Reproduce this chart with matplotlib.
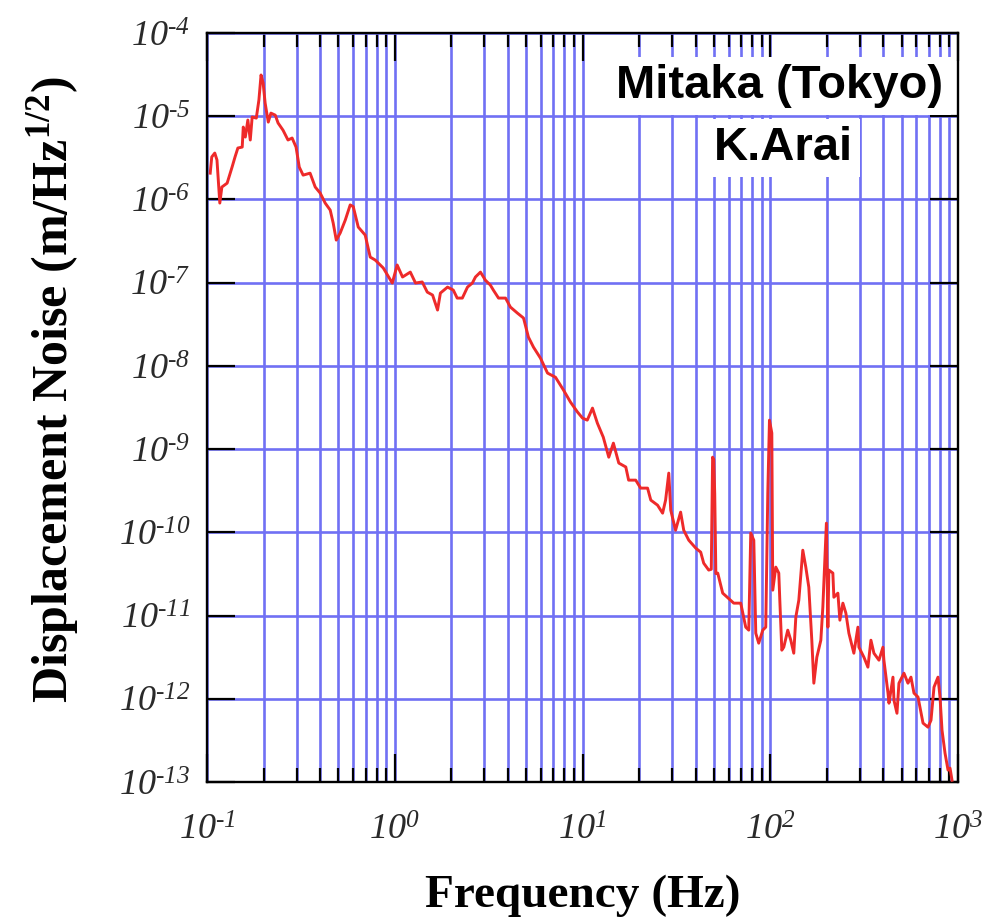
import math
import matplotlib
matplotlib.use("Agg")
import matplotlib.pyplot as plt
from matplotlib.ticker import LogLocator, FuncFormatter, NullFormatter, NullLocator

# Displacement noise spectrum, Mitaka (Tokyo)
freq_hz = [
    0.104, 0.106, 0.110, 0.113, 0.117, 0.120, 0.128, 0.136, 0.141, 0.146,
    0.154, 0.156, 0.160, 0.165, 0.170, 0.174, 0.183, 0.189, 0.194, 0.199,
    0.204, 0.212, 0.219, 0.231, 0.239, 0.254, 0.270, 0.284, 0.298, 0.310,
    0.325, 0.354, 0.377, 0.401, 0.426, 0.453, 0.470, 0.488, 0.512, 0.545,
    0.579, 0.601, 0.639, 0.696, 0.740, 0.787, 0.869, 0.970, 1.03, 1.10,
    1.21, 1.29, 1.40, 1.49, 1.59, 1.69, 1.75, 1.91, 2.05, 2.15,
    2.29, 2.44, 2.59, 2.69, 2.86, 3.04, 3.23, 3.35, 3.57, 3.89,
    4.13, 4.50, 4.85, 5.15, 5.48, 5.97, 6.51, 7.18, 7.92, 8.63,
    9.40, 10.0, 10.6, 11.3, 12.0, 12.9, 13.8, 14.6, 15.6, 17.0,
    17.6, 19.2, 20.4, 22.2, 23.1, 25.1, 26.7, 27.7, 28.8, 29.5,
    31.3, 33.3, 34.6, 36.8, 40.1, 42.6, 44.2, 47.0, 48.5, 49.3,
    50.0, 50.6, 51.3, 52.5, 55.8, 63.9, 69.6, 74.0, 76.8, 78.7,
    81.7, 83.7, 86.8, 91.2, 94.6, 97.0, 99.0, 101.9, 103.1, 107.0,
    111.0, 112.4, 115.2, 118.0, 123.9, 128.6, 133.4, 136.8, 141.9, 149.0,
    154.6, 160.4, 166.4, 170.6, 177.0, 185.9, 190.5, 199.0, 202.7, 205.1,
    215.4, 218.1, 229.1, 234.8, 243.6, 252.7, 262.2, 278.7, 292.9, 296.5,
    315.3, 331.1, 343.6, 356.5, 379.2, 398.1, 402.9, 423.6, 428.8, 450.2,
    455.8, 472.9, 484.5, 515.2, 541.0, 561.4, 582.5, 612.0, 650.9, 691.8,
    717.8, 744.7, 782.0, 801.7, 821.6, 852.5, 884.5, 906.5, 928.9,
]
noise_amp = [
    2.07e-6, 3.24e-6, 3.61e-6, 2.98e-6, 9.05e-7, 1.41e-6, 1.57e-6, 2.45e-6, 3.24e-6, 4.15e-6,
    4.26e-6, 7.41e-6, 5.62e-6, 9.0e-6, 5.18e-6, 9.8e-6, 9.5e-6, 1.57e-5, 3.13e-5, 2.51e-5,
    1.44e-5, 8.5e-6, 1.09e-5, 1.03e-5, 8.3e-6, 6.8e-6, 5.18e-6, 5.47e-6, 4.26e-6, 2.45e-6,
    1.96e-6, 2.07e-6, 1.41e-6, 1.19e-6, 9.05e-7, 7.46e-7, 5.2e-7, 3.25e-7, 3.95e-7, 5.65e-7,
    8.6e-7, 8.2e-7, 4.66e-7, 3.73e-7, 2.03e-7, 1.87e-7, 1.50e-7, 9.9e-8, 1.63e-7, 1.17e-7,
    1.34e-7, 9.9e-8, 1.02e-7, 7.7e-8, 7.1e-8, 4.69e-8, 7.5e-8, 8.85e-8, 8.15e-8, 6.53e-8,
    6.53e-8, 8.85e-8, 9.9e-8, 1.17e-7, 1.34e-7, 1.07e-7, 9.35e-8, 8.15e-8, 6.53e-8, 6.53e-8,
    5.09e-8, 4.31e-8, 3.76e-8, 2.22e-8, 1.68e-8, 1.24e-8, 8.2e-9, 7.3e-9, 5.12e-9, 3.67e-9,
    2.79e-9, 2.36e-9, 2.23e-9, 3.11e-9, 2.05e-9, 1.39e-9, 8.0e-10, 1.18e-9, 6.8e-10, 6.1e-10,
    4.24e-10, 4.24e-10, 3.4e-10, 3.4e-10, 2.44e-10, 2.12e-10, 1.70e-10, 2.44e-10, 5.15e-10, 1.85e-10,
    1.06e-10, 1.75e-10, 1.06e-10, 8.05e-11, 6.46e-11, 5.78e-11, 4.26e-11, 3.52e-11, 3.6e-11, 8.0e-10,
    7.5e-10, 2.9e-10, 3.2e-11, 3.24e-11, 1.86e-11, 1.41e-11, 1.41e-11, 7.26e-12, 6.68e-12, 9.8e-11,
    8.05e-11, 6.14e-12, 4.66e-12, 6.68e-12, 7.26e-12, 2.96e-10, 2.23e-9, 1.56e-9, 2.02e-11, 3.82e-11,
    3.24e-11, 1.53e-11, 3.84e-12, 4.17e-12, 6.68e-12, 5.06e-12, 3.53e-12, 9.6e-12, 1.53e-11, 6.1e-11,
    3.82e-11, 2.19e-11, 5.06e-12, 1.54e-12, 3.16e-12, 5.06e-12, 1.26e-11, 1.29e-10, 7.26e-12, 3.52e-11,
    3.24e-11, 1.66e-11, 1.86e-11, 8.8e-12, 1.41e-11, 1.07e-11, 6.14e-12, 3.53e-12, 7.26e-12, 4.17e-12,
    3.16e-12, 2.40e-12, 5.06e-12, 3.53e-12, 2.91e-12, 4.17e-12, 2.91e-12, 1.17e-12, 8.85e-13, 1.82e-12,
    9.6e-13, 6.7e-13, 1.54e-12, 2.03e-12, 1.54e-12, 1.82e-12, 1.17e-12, 1.05e-12, 5.1e-13, 4.56e-13,
    5.53e-13, 1.38e-12, 1.82e-12, 1.05e-12, 4.2e-13, 2.22e-13, 1.39e-13, 1.47e-13, 1.05e-13,
]

x_range = (0.1, 1000)
y_range = (1e-13, 1e-4)

plt.rcParams["mathtext.fontset"] = "custom"
plt.rcParams["mathtext.rm"] = "Liberation Serif:italic"
plt.rcParams["mathtext.it"] = "Liberation Serif:italic"
plt.rcParams["mathtext.bf"] = "Liberation Serif:bold"

fig = plt.figure(figsize=(9.82, 9.17), dpi=100)
ax = fig.add_axes([0.2108, 0.1472, 0.7648, 0.8168])

ax.plot(freq_hz, noise_amp, color="#ee2a2a", lw=2.1, zorder=3)

ax.set_xscale("log")
ax.set_yscale("log")
ax.set_xlim(*x_range)
ax.set_ylim(*y_range)

ax.xaxis.set_major_locator(LogLocator(base=10, numticks=10))
ax.xaxis.set_minor_locator(LogLocator(base=10, subs=range(2, 10), numticks=50))
ax.xaxis.set_minor_formatter(NullFormatter())
ax.yaxis.set_major_locator(LogLocator(base=10, numticks=20))
ax.yaxis.set_minor_locator(NullLocator())


def decade_label(v, pos):
    e = round(math.log10(v))
    if e < 0:
        return r"$10^{\text{-}%d}$" % (-e)
    return r"$10^{%d}$" % e


ax.xaxis.set_major_formatter(FuncFormatter(decade_label))
ax.yaxis.set_major_formatter(FuncFormatter(decade_label))

ax.grid(True, which="major", axis="y", color="#7070f4", lw=1.9)
ax.grid(True, which="both", axis="x", color="#7070f4", lw=1.9)
ax.set_axisbelow(True)

ax.tick_params(which="both", direction="in", top=True, right=True, color="black", width=1.6)
ax.tick_params(which="major", length=20)
ax.tick_params(which="minor", length=10)
ax.tick_params(axis="x", which="major", pad=22, labelsize=26, labelcolor="#2a2a2a")
ax.tick_params(axis="y", which="major", pad=12, labelsize=26, labelcolor="#2a2a2a")
for s in ax.spines.values():
    s.set_linewidth(1.7)
    s.set_color("black")

fig.text(583 / 982, 1 - 896 / 917, "Frequency (Hz)", ha="center", va="center",
         family="Liberation Serif", weight="bold", fontsize=34)
fig.text(53 / 982, 1 - 390 / 917, r"Displacement Noise (m/Hz$^{\mathbf{1/2}}$)",
         ha="center", va="center", rotation=90,
         family="Liberation Serif", weight="bold", fontsize=36)

box = dict(facecolor="white", edgecolor="none", pad=5)
fig.text(780 / 982, 1 - 98 / 917, "Mitaka (Tokyo)", ha="center", va="baseline",
         family="Liberation Sans", weight="bold", fontsize=34, bbox=box)
fig.text(783 / 982, 1 - 160 / 917, "K.Arai", ha="center", va="baseline",
         family="Liberation Sans", weight="bold", fontsize=34, bbox=box)

fig.savefig("out.png", dpi=100)
